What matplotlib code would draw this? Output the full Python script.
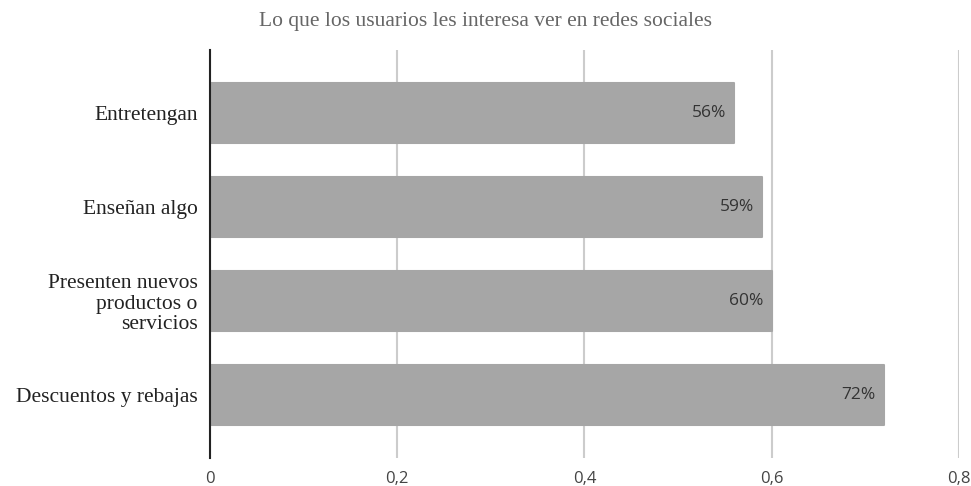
import matplotlib.pyplot as plt
from matplotlib.ticker import FixedFormatter, FixedLocator


categories = ["Entretengan", "Enseñan algo", "Presenten nuevos\nproductos o\nservicios", "Descuentos y rebajas"]
shares = [0.56, 0.59, 0.60, 0.72]
value_labels = ["56%", "59%", "60%", "72%"]
x_ticks = [0, 0.2, 0.4, 0.6, 0.8]
x_tick_labels = ["0", "0,2", "0,4", "0,6", "0,8"]

title = "Lo que los usuarios les interesa ver en redes sociales"

serif = ["Liberation Serif", "DejaVu Serif"]
sans = ["Open Sans", "DejaVu Sans"]

fig = plt.figure(figsize=(9.71, 4.86), dpi=100)
ax = fig.add_axes([0.2163, 0.0576, 0.7713, 0.8395])

positions = list(range(len(categories)))
ax.barh(positions, shares, height=0.64, color="#a6a6a6", edgecolor="#a6a6a6",
        linewidth=1.5, joinstyle="round", zorder=3)

for pos, val, label in zip(positions, shares, value_labels):
    ax.annotate(label, (val, pos), xytext=(-6, 0), textcoords="offset points",
                ha="right", va="center", fontsize=12.5, color="#333333",
                family=sans, zorder=4)

ax.set_xlim(0, 0.8)
ax.set_ylim(3.67, -0.67)
ax.xaxis.set_major_locator(FixedLocator(x_ticks))
ax.xaxis.set_major_formatter(FixedFormatter(x_tick_labels))
for lbl in ax.get_xticklabels():
    lbl.set_family(sans)
    lbl.set_fontsize(12)
    lbl.set_color("#444444")

ax.set_yticks(positions)
ax.set_yticklabels(categories, family=serif, fontsize=15.5, color="#222222",
                   linespacing=1.08, ha="right")
ax.tick_params(axis="both", length=0)
ax.tick_params(axis="x", pad=9)
ax.tick_params(axis="y", pad=9)

ax.grid(axis="x", color="#cccccc", linewidth=1.5, zorder=0)
ax.set_axisbelow(True)
for side in ["top", "right", "bottom"]:
    ax.spines[side].set_visible(False)
ax.spines["left"].set_color("#222222")
ax.spines["left"].set_linewidth(1.5)
ax.spines["left"].set_zorder(5)

fig.text(0.5, 0.955, title, ha="center", va="center", family=serif,
         fontsize=15.5, color="#666666")

fig.savefig("out.png", dpi=100)
